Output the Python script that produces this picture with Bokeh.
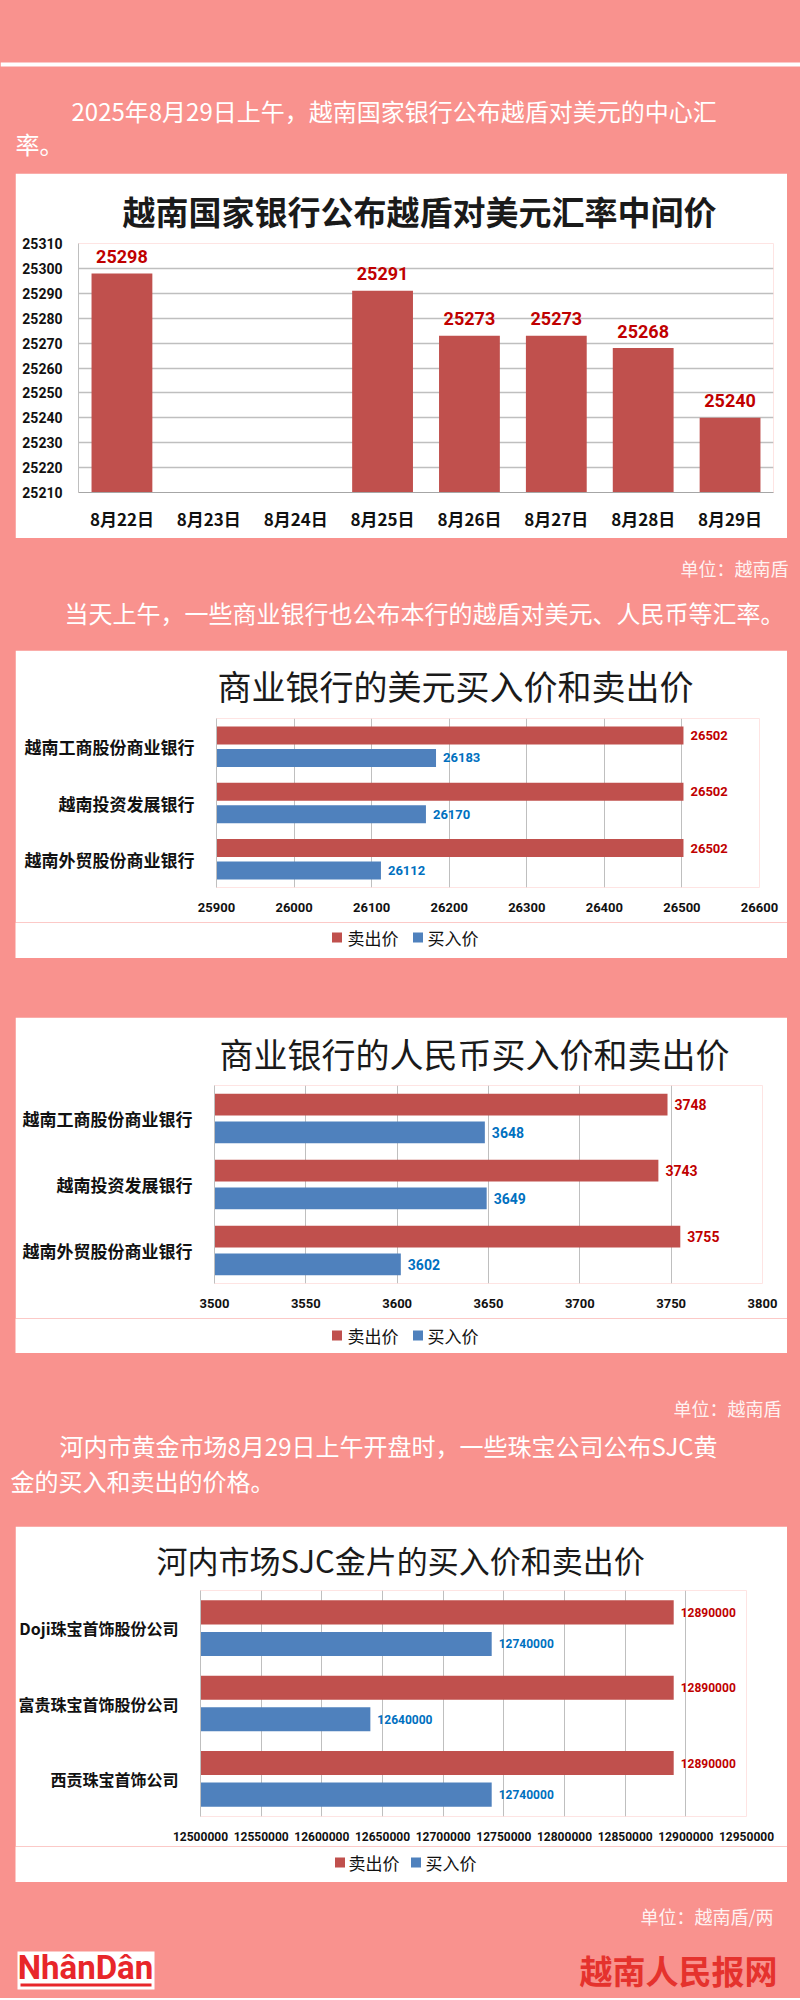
from bokeh.plotting import figure
from bokeh.models import (Range1d, FactorRange, FixedTicker, NumeralTickFormatter,
                          Span, ColumnDataSource, Spacer, BoxAnnotation)
from bokeh.layouts import column, row
from bokeh.transform import dodge
from bokeh.core.properties import value
from bokeh.embed import file_html
from bokeh.resources import INLINE

PINK = "#F9928E"
RED_BAR = "#C0504D"
BLUE_BAR = "#4F81BD"
RED_TXT = "#C00000"
BLUE_TXT = "#0070C0"
GRID = "#BFBFBF"
CJK = "Noto Sans CJK SC"
NUM = "Roboto"

# ---------------- data ----------------
dates = ["8月22日", "8月23日", "8月24日", "8月25日", "8月26日", "8月27日", "8月28日", "8月29日"]
central_rate = [25298, None, None, 25291, 25273, 25273, 25268, 25240]
rate_ticks = [25210, 25220, 25230, 25240, 25250, 25260, 25270, 25280, 25290, 25300, 25310]

banks = ["越南工商股份商业银行", "越南投资发展银行", "越南外贸股份商业银行"]
usd_sell = [26502, 26502, 26502]
usd_buy = [26183, 26170, 26112]
usd_ticks = [25900, 26000, 26100, 26200, 26300, 26400, 26500, 26600]

cny_sell = [3748, 3743, 3755]
cny_buy = [3648, 3649, 3602]
cny_ticks = [3500, 3550, 3600, 3650, 3700, 3750, 3800]

gold_firms = ["Doji珠宝首饰股份公司", "富贵珠宝首饰股份公司", "西贡珠宝首饰公司"]
gold_sell = [12890000, 12890000, 12890000]
gold_buy = [12740000, 12640000, 12740000]
gold_ticks = [12500000, 12550000, 12600000, 12650000, 12700000, 12750000,
              12800000, 12850000, 12900000, 12950000]

series_labels = ["卖出价", "买入价"]
series_colors = [RED_BAR, BLUE_BAR]

W = 800          # page width
PL, PR = 15, 13  # pink margins left / right of the white panels
PW = W - PL - PR


def blank_fig(height, bg, width=W):
    p = figure(width=width, height=height, x_range=Range1d(0, width), y_range=Range1d(height, 0),
               output_backend="svg", toolbar_location=None, min_border=0,
               x_axis_type=None, y_axis_type=None,
               background_fill_color=bg, border_fill_color=bg, outline_line_color=None)
    p.grid.visible = False
    return p


def put_text(p, x, y, txt, size, color="white", align="left", style="normal", font=CJK, alpha=1.0):
    p.text(x=[x], y=[y], text=[txt], text_font=value(font), text_font_size=size,
           text_color=color, text_align=align, text_baseline="middle",
           text_font_style=style, text_alpha=alpha)


def wrap(fig, h):
    return row(Spacer(width=PL, height=h, styles={"background-color": PINK}), fig,
               Spacer(width=PR, height=h, styles={"background-color": PINK}),
               styles={"background-color": PINK})


def legend_strip(height, cy, sq_x, txt_x):
    # legend below a chart: coloured squares + series names on the white panel
    lg = blank_fig(height, "white", width=PW)
    lg.scatter(x=[x - PL for x in sq_x], y=[cy, cy], marker="square", size=10,
               fill_color=series_colors, line_color=None)
    lg.text(x=[x - PL for x in txt_x], y=[cy, cy], text=series_labels, text_font=value(CJK),
            text_font_size="17px", text_color="#111111", text_baseline="middle")
    return wrap(lg, height)


def style_title(p, text, size, offset, standoff, bold=False):
    p.title.text = text
    p.title.text_font = CJK
    p.title.text_font_size = size
    p.title.text_font_style = "bold" if bold else "normal"
    p.title.text_color = "#1a1a1a"
    p.title.align = "left"
    p.title.offset = offset
    p.title.standoff = standoff


# ---------------- header ----------------
hdr = blank_fig(173, PINK)
hdr.add_layout(Span(location=64, dimension="width", line_color="white", line_width=4))
put_text(hdr, 71, 110, "2025年8月29日上午，越南国家银行公布越盾对美元的中心汇", "24px")
put_text(hdr, 15, 143, "率。", "24px")

# ---------------- chart 1 ----------------
p1 = figure(width=PW, height=365, x_range=FactorRange(*dates),
            y_range=Range1d(rate_ticks[0], rate_ticks[-1]),
            output_backend="svg", toolbar_location=None,
            min_border_left=63, min_border_right=14, min_border_top=70, min_border_bottom=46,
            background_fill_color="white", border_fill_color="white", outline_line_color=None)
d_x = [d for d, v in zip(dates, central_rate) if v is not None]
d_v = [v for v in central_rate if v is not None]
src1 = ColumnDataSource(dict(date=d_x, rate=d_v, txt=[str(v) for v in d_v]))
p1.vbar(x="date", top="rate", bottom=rate_ticks[0], width=0.7, source=src1,
        fill_color=RED_BAR, line_color=None)
p1.text(x="date", y="rate", text="txt", source=src1, y_offset=-17, text_align="center",
        text_baseline="middle", text_color=RED_TXT, text_font=value(NUM),
        text_font_size="18px", text_font_style="bold")
style_title(p1, "越南国家银行公布越盾对美元汇率中间价", "33px", 44, 18, bold=True)
p1.yaxis.ticker = FixedTicker(ticks=rate_ticks)
p1.yaxis.formatter = NumeralTickFormatter(format="0")
p1.yaxis.major_label_text_font = NUM
p1.yaxis.major_label_text_font_size = "14px"
p1.yaxis.major_label_text_font_style = "bold"
p1.yaxis.major_label_text_color = "#111111"
p1.yaxis.major_tick_line_color = None
p1.yaxis.minor_tick_line_color = None
p1.yaxis.axis_line_color = GRID
p1.yaxis.major_label_standoff = 10
p1.xaxis.major_label_text_font = CJK
p1.xaxis.major_label_text_font_size = "17px"
p1.xaxis.major_label_text_font_style = "bold"
p1.xaxis.major_label_text_color = "#111111"
p1.xaxis.major_tick_line_color = None
p1.xaxis.axis_line_color = "#A6A6A6"
p1.xaxis.major_label_standoff = 7
p1.xgrid.visible = False
p1.ygrid.ticker = FixedTicker(ticks=rate_ticks)
p1.ygrid.grid_line_color = GRID
p1.ygrid.grid_line_width = 1.5

# ---------------- text block 2 ----------------
t2 = blank_fig(112, PINK)
put_text(t2, 788, 29, "单位：越南盾", "18px", align="right", alpha=0.9)
put_text(t2, 64, 74, "当天上午，一些商业银行也公布本行的越盾对美元、人民币等汇率。", "24px")


# ---------------- horizontal bar charts ----------------
def hbar_chart(cats, sell, buy, ticks, height, borders, title, title_size, title_offset,
               title_standoff, cat_size, tick_size, val_size, bar_h, off):
    bl, br, bt, bb = borders
    p = figure(width=PW, height=height, y_range=FactorRange(factors=list(reversed(cats))),
               x_range=Range1d(ticks[0], ticks[-1]),
               output_backend="svg", toolbar_location=None,
               min_border_left=bl, min_border_right=br, min_border_top=bt, min_border_bottom=bb,
               background_fill_color="white", border_fill_color="white", outline_line_color=None)
    src = ColumnDataSource(dict(cat=cats, sell=sell, buy=buy,
                                sell_txt=[str(v) for v in sell], buy_txt=[str(v) for v in buy]))
    ys = dodge("cat", off, range=p.y_range)
    yb = dodge("cat", -off, range=p.y_range)
    p.hbar(y=ys, right="sell", left=ticks[0], height=bar_h, source=src,
           fill_color=RED_BAR, line_color=None)
    p.hbar(y=yb, right="buy", left=ticks[0], height=bar_h, source=src,
           fill_color=BLUE_BAR, line_color=None)
    p.text(x="sell", y=ys, text="sell_txt", source=src, x_offset=7, text_baseline="middle",
           text_color=RED_TXT, text_font=value(NUM), text_font_size=val_size, text_font_style="bold")
    p.text(x="buy", y=yb, text="buy_txt", source=src, x_offset=7, text_baseline="middle",
           text_color=BLUE_TXT, text_font=value(NUM), text_font_size=val_size, text_font_style="bold")
    style_title(p, title, title_size, title_offset, title_standoff)
    p.xaxis.ticker = FixedTicker(ticks=ticks)
    p.xaxis.formatter = NumeralTickFormatter(format="0")
    p.xaxis.major_label_text_font = NUM
    p.xaxis.major_label_text_font_size = tick_size
    p.xaxis.major_label_text_font_style = "bold"
    p.xaxis.major_label_text_color = "#111111"
    p.xaxis.major_tick_line_color = None
    p.xaxis.minor_tick_line_color = None
    p.xaxis.axis_line_color = None
    p.xaxis.major_label_standoff = 9
    p.yaxis.major_label_text_font = CJK
    p.yaxis.major_label_text_font_size = cat_size
    p.yaxis.major_label_text_font_style = "bold"
    p.yaxis.major_label_text_color = "#111111"
    p.yaxis.major_tick_line_color = None
    p.yaxis.axis_line_color = GRID
    p.yaxis.major_label_standoff = 16
    p.ygrid.visible = False
    p.xgrid.ticker = FixedTicker(ticks=ticks)
    p.xgrid.grid_line_color = GRID
    return p


p2 = hbar_chart(banks, usd_sell, usd_buy, usd_ticks, 272, (201, 28, 67, 35),
                "商业银行的美元买入价和卖出价", "34px", 1, 17, "17px", "13px", "13px",
                0.32, 0.2)
lg2 = legend_strip(36, 15, [336.5, 417.5], [347, 427])
gap = blank_fig(59, PINK)
p3 = hbar_chart(banks, cny_sell, cny_buy, cny_ticks, 301, (199, 25, 68, 35),
                "商业银行的人民币买入价和卖出价", "34px", 5, 15, "17px", "13px", "14px",
                0.33, 0.21)
lg3 = legend_strip(35, 17, [336.5, 417.5], [347, 427])

t3 = blank_fig(173, PINK)
put_text(t3, 781, 54, "单位：越南盾", "18px", align="right", alpha=0.9)
put_text(t3, 59, 92, "河内市黄金市场8月29日上午开盘时，一些珠宝公司公布SJC黄", "24px")
put_text(t3, 10, 127, "金的买入和卖出的价格。", "24px")

p4 = hbar_chart(gold_firms, gold_sell, gold_buy, gold_ticks, 320, (182, 41, 62, 30),
                "河内市场SJC金片的买入价和卖出价", "31px", -44, 17, "16px", "12px", "12px",
                0.32, 0.21)
lg4 = legend_strip(36, 16, [339.5, 415.5], [348, 425])

# ---------------- footer ----------------
ft = blank_fig(116, PINK)
put_text(ft, 773, 33, "单位：越南盾/两", "18px", align="right", alpha=0.9)
ft.add_layout(BoxAnnotation(left=17, right=154, top=69, bottom=107, fill_color="white",
                            fill_alpha=1, line_color=None, level="underlay"))
ft.add_layout(BoxAnnotation(left=20, right=151, top=101, bottom=104, fill_color="#E8262A",
                            fill_alpha=1, line_color=None, level="underlay"))
put_text(ft, 85, 85, "NhânDân", "33px", color="#E8262A", align="center", style="bold", font=NUM)
put_text(ft, 777, 87, "越南人民报网", "33px", color="#E5322D", align="right", style="bold")

page = column(hdr, wrap(p1, 365), t2,
              wrap(p2, 272), lg2, gap,
              wrap(p3, 301), lg3, t3,
              wrap(p4, 320), lg4, ft,
              styles={"background-color": PINK})

open("out.html", "w").write(file_html(page, INLINE))
